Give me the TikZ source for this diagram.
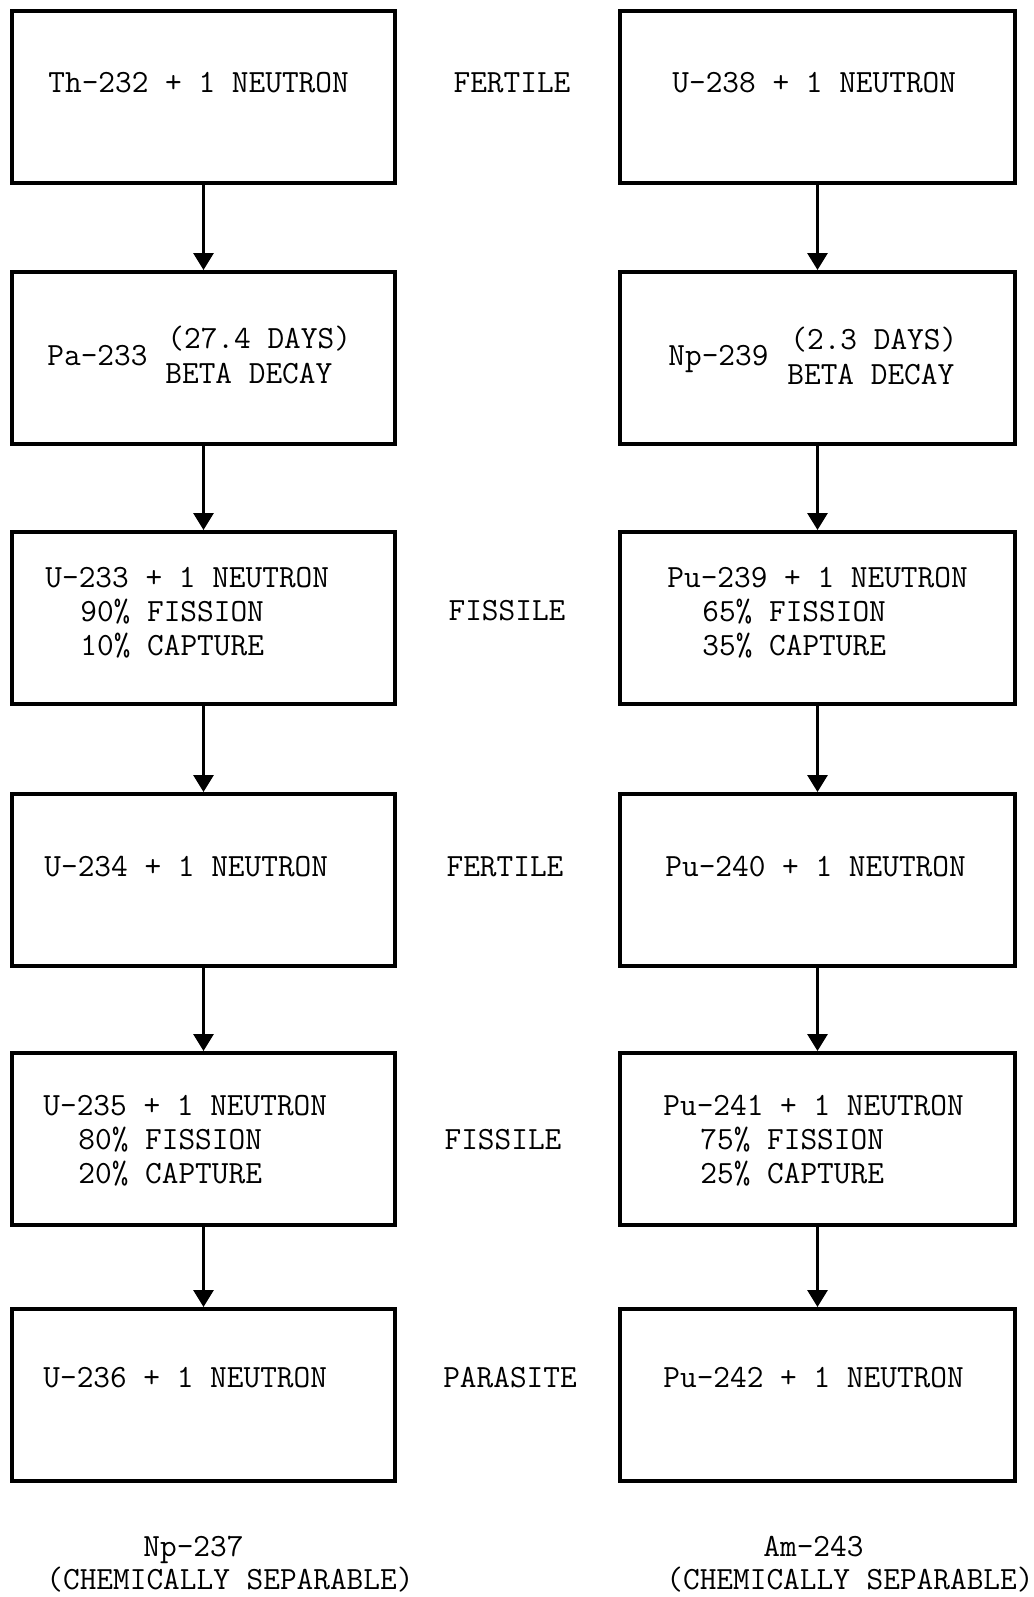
\documentclass[tikz,border=0pt]{standalone}
\usepackage{fontspec}
\usetikzlibrary{arrows.meta,positioning}
\tikzset{
    % Boxes
    chainbox/.style={draw,line width=2pt,minimum height=86pt,inner sep=0pt},
    leftbox/.style={chainbox,minimum width=191.5pt},
    rightbox/.style={chainbox,minimum width=197.5pt},
    %
    % Texts
    txt/.style={anchor=base west,inner sep=0pt},
    midtxt/.style={anchor=base,inner sep=0pt},
    %
    % Arrows
    arrow tip/.tip={Triangle[length=8.5pt,width=10pt]},
    arr/.style={-{arrow tip},line width=1.5pt}
}
\tikzstyle{every node}=[font=\ttfamily\fontsize{16.2}{19}\selectfont]

\begin{document}
\begin{tikzpicture}[x=0.5pt,y=-0.5pt]
    \useasboundingbox (0,0) rectangle (1034,1597);

    % thorium chain
    \node[leftbox] (th232) at (203.5,97) {};
    \node[leftbox] (pa233) at (203.5,358) {};
    \node[leftbox] (u233) at (203.5,618) {};
    \node[leftbox] (u234) at (203.5,880) {};
    \node[leftbox] (u235) at (203.5,1139) {};
    \node[leftbox] (u236) at (203.5,1395) {};

    % uranium chain
    \node[rightbox] (u238) at (817.5,97) {};
    \node[rightbox] (np239) at (817.5,358) {};
    \node[rightbox] (pu239) at (817.5,618) {};
    \node[rightbox] (pu240) at (817.5,880) {};
    \node[rightbox] (pu241) at (817.5,1139) {};
    \node[rightbox] (pu242) at (817.5,1395) {};

    \foreach \a/\b in {th232/pa233,pa233/u233,u233/u234,u234/u235,u235/u236,
                       u238/np239,np239/pu239,pu239/pu240,pu240/pu241,pu241/pu242}{
        \draw[arr] (\a) -- (\b);
    }

    % box texts, left
    \node[txt] (th232t) at (48,92) {Th-232 + 1 NEUTRON};
    \node[txt] (pa233t) at (47,365) {Pa-233};
    \node[txt] (pa233a) at (167,348) {(27.4 DAYS)};
    \node[txt] (pa233b) at (165,383) {BETA DECAY};
    \node[txt] (u233t) at (45,587) {U-233 + 1 NEUTRON};
    \node[txt] (u233a) at (80,621) {90\% FISSION};
    \node[txt] (u233b) at (80,655) {10\% CAPTURE};
    \node[txt] (u234t) at (44,876) {U-234 + 1 NEUTRON};
    \node[txt] (u235t) at (43,1115) {U-235 + 1 NEUTRON};
    \node[txt] (u235a) at (78,1149) {80\% FISSION};
    \node[txt] (u235b) at (78,1183) {20\% CAPTURE};
    \node[txt] (u236t) at (43,1387) {U-236 + 1 NEUTRON};

    % box texts, right
    \node[txt] (u238t) at (672,92) {U-238 + 1 NEUTRON};
    \node[txt] (np239t) at (668,365) {Np-239};
    \node[txt] (np239a) at (790,349) {(2.3 DAYS)};
    \node[txt] (np239b) at (787,384) {BETA DECAY};
    \node[txt] (pu239t) at (667,587) {Pu-239 + 1 NEUTRON};
    \node[txt] (pu239a) at (702,621) {65\% FISSION};
    \node[txt] (pu239b) at (702,655) {35\% CAPTURE};
    \node[txt] (pu240t) at (665,876) {Pu-240 + 1 NEUTRON};
    \node[txt] (pu241t) at (663,1115) {Pu-241 + 1 NEUTRON};
    \node[txt] (pu241a) at (700,1149) {75\% FISSION};
    \node[txt] (pu241b) at (700,1183) {25\% CAPTURE};
    \node[txt] (pu242t) at (663,1387) {Pu-242 + 1 NEUTRON};

    % middle column
    \node[midtxt] (fert1) at (512,92) {FERTILE};
    \node[midtxt] (fiss1) at (507,620) {FISSILE};
    \node[midtxt] (fert2) at (505,876) {FERTILE};
    \node[midtxt] (fiss2) at (503,1149) {FISSILE};
    \node[midtxt] (para) at (510,1387) {PARASITE};

    % end products
    \node[txt] (np237) at (143,1556) {Np-237};
    \node[txt] (np237s) at (46,1589) {(CHEMICALLY SEPARABLE)};
    \node[txt] (am243) at (763,1556) {Am-243};
    \node[txt] (am243s) at (666,1589) {(CHEMICALLY SEPARABLE)};
\end{tikzpicture}
\end{document}
